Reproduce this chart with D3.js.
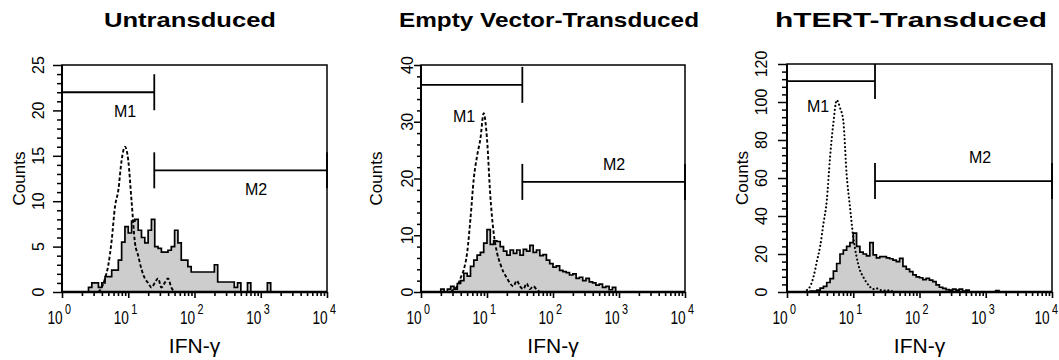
<!DOCTYPE html>
<html><head><meta charset="utf-8">
<script src="https://cdn.jsdelivr.net/npm/d3@7"></script>
<style>
body{margin:0;background:#fff}
svg{display:block}
text{font-family:"Liberation Sans",Arial,Helvetica,sans-serif;fill:#000}
</style>
</head><body>
<svg id="chart" width="1059" height="360"></svg>
<script>
// ---------------- data ----------------
const titles = ["Untransduced", "Empty Vector-Transduced", "hTERT-Transduced"];
const xAxisLabel = "IFN-\u03b3";
const yAxisLabel = "Counts";
const decadeExponents = [0, 1, 2, 3, 4];
const yTicksUntransduced = [0, 5, 10, 15, 20, 25];
const yTicksEmpty = [0, 10, 20, 30, 40];
const yTicksHTERT = [0, 20, 40, 60, 80, 100, 120];
const binStepLog = 0.05; // histogram bin width, in decades

// filled (stained) histograms: counts per bin starting at log10 value *Start
const untransducedStart = 0.40;
const untransducedCounts = [0.5,1,1,0.5,1,1.7,1.7,2.4,2.4,3.5,5.5,7.2,6.5,7.8,8,6.8,6,5.4,6.8,8,5,4.8,4.4,4.4,4.6,5,6.8,5.4,3.5,3.5,2.8,2.2,2.2,2.2,2.2,2.2,2.2,2.2,3,1.1,1.1,1.1,1.1,1.1,0.5,1,0,0,1,0,0,0,0,0,1,0];
const emptyStart = 0.30;
const emptyCounts = [0.5,0,0.5,1,0.5,1.5,2,3.3,2.8,4.5,5.6,6.5,7,8.6,11,8.4,9,8.9,8,7.2,6.5,7.4,6.8,7.4,6.5,7.5,7.2,8.2,7,7.4,6.4,6.6,5.6,5,4.4,4.6,3.8,3.6,3.4,3,3.2,2.4,2.6,2,2.4,1.8,1.6,1.2,1.4,0.8,1,0.4,0.8,0];
const htertStart = 0.30;
const htertCounts = [0,0.5,0.5,1,2,3,5,7,11,15,20,22,24,26,31,24,21,20,19,26,19.5,18,18.6,18.6,18,17.5,16.8,16,17.7,13.5,12,10.7,9,8,7.5,6.5,7.2,6.3,5.5,3.7,2.5,1.9,1.2,1,1.5,1,1.5,0.5,1,0,0,0,0,0,0,0,0,0.8,0];

// control (isotype) histograms drawn as broken lines, values at bin centres
const untransducedControlStart = 0.55;
const untransducedControl = [0,0.5,1.5,3,5.7,9.4,11.2,14.5,16,14.5,10,5.5,4,2.5,1.5,1,0.5,1,1.5,0.5,1,1.5,0.5,0];
const emptyControlStart = 0.45;
const emptyControl = [0,0.5,1,2.5,4,7,13,20,24,27,31.5,27,17,10.5,7,5,3.5,2.5,1.5,1,2,1,0.5,1.5,0.5,1,0.5,0];
const htertControlStart = 0.25;
const htertControl = [0,1,3,8,16,24,36,48,71,89,101,97,90,62,45,29,18.6,11.6,8,5,2.8,1.5,2,1,1,0.5,1,0];

// gates: [from, to, height in counts]
const gateNames = ["M1", "M2"];
const gatesUntransduced = [[1, 24.7, 22], [24.7, 10000, 13.4]];
const gatesEmpty = [[1, 34.3, 36.5], [34.3, 10000, 19.4]];
const gatesHTERT = [[1, 21.3, 111], [21.3, 10000, 58.4]];

// ---------------- layout / style ----------------
const panels = [
  {title: titles[0], titleX: 190, titleW: 172, left: 62, right: 327, top: 65, bottom: 292, yMax: 25, yTicks: yTicksUntransduced, yMinorStep: 1,
   majorLen: 9, minorLen: 5, yLabelX: 38, countsX: 19,
   counts: untransducedCounts, start: untransducedStart, ctrl: untransducedControl, ctrlStart: untransducedControlStart, ctrlStyle: "dash",
   gates: gatesUntransduced, gateLabelPos: [[125, 117], [256, 195]]},
  {title: titles[1], titleX: 549, titleW: 300, left: 421, right: 685, top: 65, bottom: 292, yMax: 40, yTicks: yTicksEmpty, yMinorStep: 2,
   majorLen: 7, minorLen: 4, yLabelX: 407, countsX: 376,
   counts: emptyCounts, start: emptyStart, ctrl: emptyControl, ctrlStart: emptyControlStart, ctrlStyle: "dash",
   gates: gatesEmpty, gateLabelPos: [[464, 122], [614, 170]]},
  {title: titles[2], titleX: 911, titleW: 272, left: 787, right: 1052, top: 64, bottom: 292, yMax: 120, yTicks: yTicksHTERT, yMinorStep: 4,
   majorLen: 9, minorLen: 5, yLabelX: 761, countsX: 742,
   counts: htertCounts, start: htertStart, ctrl: htertControl, ctrlStart: htertControlStart, ctrlStyle: "dot",
   gates: gatesHTERT, gateLabelPos: [[818, 112], [980, 163]]}
];

const svg = d3.select("#chart");

panels.forEach(p => {
  const x = d3.scaleLog().domain([1, 1e4]).range([p.left, p.right]);
  const y = d3.scaleLinear().domain([0, p.yMax]).range([p.bottom, p.top]);
  const g = svg.append("g");

  // title
  g.append("text").attr("x", p.titleX).attr("y", 27)
    .attr("text-anchor", "middle").attr("font-size", 21).attr("font-weight", "bold")
    .attr("textLength", p.titleW).attr("lengthAdjust", "spacingAndGlyphs").text(p.title);

  // filled histogram
  const pts = [{v: Math.pow(10, p.start), c: 0}]
    .concat(p.counts.map((c, i) => ({v: Math.pow(10, p.start + i * binStepLog), c})))
    .concat([{v: Math.pow(10, p.start + p.counts.length * binStepLog), c: 0}]);

  const area = d3.area().curve(d3.curveStepAfter)
    .x(d => x(d.v)).y0(y(0)).y1(d => y(d.c));
  const line = d3.line().curve(d3.curveStepAfter)
    .x(d => x(d.v)).y(d => y(d.c));

  g.append("path").datum(pts).attr("d", area).attr("fill", "#cdcdcd");
  g.append("path").datum(pts).attr("d", line).attr("fill", "none")
    .attr("stroke", "#000").attr("stroke-width", 1.7).attr("stroke-linejoin", "miter");

  // control histogram
  const cpts = p.ctrl.map((c, i) => ({v: Math.pow(10, p.ctrlStart + i * binStepLog), c}));
  const cline = d3.line().curve(d3.curveMonotoneX).x(d => x(d.v)).y(d => y(d.c));
  const cl = g.append("path").datum(cpts).attr("d", cline).attr("fill", "none").attr("stroke", "#000");
  if (p.ctrlStyle === "dash") {
    cl.attr("stroke-width", 1.9).attr("stroke-dasharray", "3.5,2.2");
  } else {
    cl.attr("stroke-width", 2.1).attr("stroke-dasharray", "0.1,3.8").attr("stroke-linecap", "round");
  }

  // gates
  p.gates.forEach((gt, i) => {
    const gy = y(gt[2]);
    const gg = g.append("g").attr("stroke", "#000").attr("stroke-width", 1.8);
    gg.append("line").attr("x1", x(gt[0])).attr("x2", x(gt[1])).attr("y1", gy).attr("y2", gy);
    [gt[0], gt[1]].forEach(v => {
      gg.append("line").attr("x1", x(v)).attr("x2", x(v))
        .attr("y1", Math.max(p.top, gy - 18)).attr("y2", gy + 18);
    });
    g.append("text").attr("x", p.gateLabelPos[i][0]).attr("y", p.gateLabelPos[i][1])
      .attr("text-anchor", "middle").attr("font-size", 16).text(gateNames[i]);
  });

  // frame
  g.append("rect").attr("x", p.left).attr("y", p.top).attr("width", p.right - p.left).attr("height", p.bottom - p.top)
    .attr("fill", "none").attr("stroke", "#000").attr("stroke-width", 1.5);
  g.append("line").attr("x1", p.left).attr("x2", p.right).attr("y1", p.bottom).attr("y2", p.bottom)
    .attr("stroke", "#000").attr("stroke-width", 2.4);
  g.append("line").attr("x1", p.left).attr("x2", p.left).attr("y1", p.top).attr("y2", p.bottom)
    .attr("stroke", "#000").attr("stroke-width", 2);

  // x axis ticks
  const decades = decadeExponents.map(e => Math.pow(10, e));
  const minors = [];
  decadeExponents.slice(0, -1).forEach(e => { for (let k = 2; k <= 9; k++) minors.push(k * Math.pow(10, e)); });
  const xMaj = g.append("g").attr("transform", `translate(0,${p.bottom})`)
    .call(d3.axisBottom(x).tickValues(decades).tickSize(6).tickFormat(""));
  const xMin = g.append("g").attr("transform", `translate(0,${p.bottom})`)
    .call(d3.axisBottom(x).tickValues(minors).tickSize(4).tickFormat(""));
  [xMaj, xMin].forEach(a => { a.select(".domain").remove(); a.selectAll("line").attr("stroke-width", 1.6); });

  // x tick labels 10^n (kept inside the page at the far right)
  decadeExponents.forEach((e, i) => {
    const tx = Math.min(x(decades[i]), 1049);
    const lg = g.append("g").attr("transform", `translate(${tx},324) scale(0.72,1)`);
    lg.append("text").attr("x", 1).attr("y", 0).attr("text-anchor", "end").attr("font-size", 19).text("10");
    lg.append("text").attr("x", 4).attr("y", -10).attr("text-anchor", "start").attr("font-size", 15).text(String(e));
  });

  // y axis ticks
  const yMinors = d3.range(0, p.yMax + 0.001, p.yMinorStep).filter(v => !p.yTicks.includes(v));
  const yMaj = g.append("g").attr("transform", `translate(${p.left},0)`)
    .call(d3.axisLeft(y).tickValues(p.yTicks).tickSize(p.majorLen).tickFormat(""));
  const yMin = g.append("g").attr("transform", `translate(${p.left},0)`)
    .call(d3.axisLeft(y).tickValues(yMinors).tickSize(p.minorLen).tickFormat(""));
  [yMaj, yMin].forEach(a => { a.select(".domain").remove(); a.selectAll("line").attr("stroke-width", 1.5); });

  p.yTicks.forEach(v => {
    g.append("text").attr("transform", `translate(${p.yLabelX},${y(v)}) rotate(-90)`)
      .attr("text-anchor", "middle").attr("dominant-baseline", "central").attr("font-size", 16).text(String(v));
  });

  // axis titles
  g.append("text").attr("transform", `translate(${p.countsX},${(p.top + p.bottom) / 2}) rotate(-90)`)
    .attr("text-anchor", "middle").attr("dominant-baseline", "central").attr("font-size", 17).text(yAxisLabel);
  g.append("text").attr("x", (p.left + p.right) / 2).attr("y", 353)
    .attr("text-anchor", "middle").attr("font-size", 21).text(xAxisLabel);
});
</script>
</body></html>
